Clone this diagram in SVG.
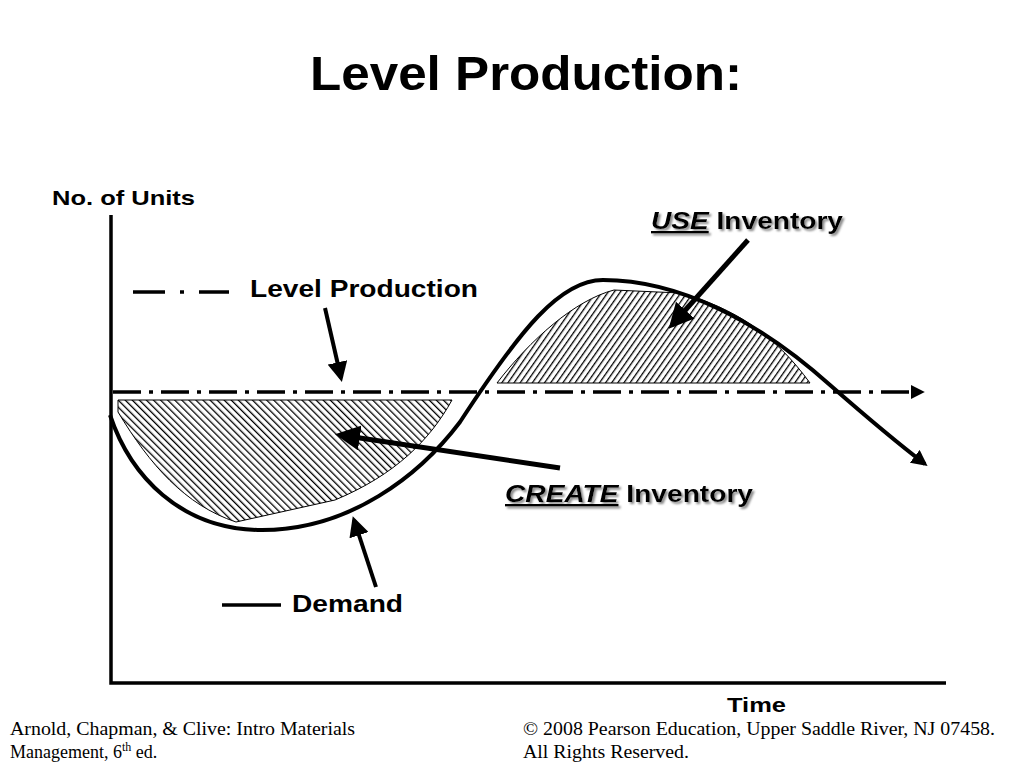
<svg xmlns="http://www.w3.org/2000/svg" width="1024" height="768" viewBox="0 0 1024 768">
<defs>
<style>
.b{font-family:"Liberation Sans",Arial,sans-serif;font-weight:bold;fill:#000}
.t{font-family:"Liberation Serif","Times New Roman",serif;font-size:18px;fill:#000}
.ln{fill:none;stroke:#000}
</style>
<pattern id="hb" width="5" height="5" patternUnits="userSpaceOnUse" patternTransform="rotate(-45)"><rect width="5" height="5" fill="#fff"/><line x1="0" y1="0" x2="0" y2="5" stroke="#000" stroke-width="2.6"/></pattern>
<pattern id="hf" width="5" height="5" patternUnits="userSpaceOnUse" patternTransform="rotate(35)"><rect width="5" height="5" fill="#fff"/><line x1="0" y1="0" x2="0" y2="5" stroke="#000" stroke-width="2.6"/></pattern>
<marker id="ah" viewBox="0 0 10 10" refX="8" refY="5" markerWidth="4" markerHeight="4" orient="auto"><path d="M0,0 L10,5 L0,10 Z" fill="#000"/></marker>
<marker id="as" viewBox="0 0 10 10" refX="8" refY="5" markerWidth="5" markerHeight="5" orient="auto"><path d="M0,0 L10,5 L0,10 Z" fill="#000"/></marker>
<filter id="sh" x="-5%" y="-20%" width="115%" height="150%"><feDropShadow dx="2" dy="2" stdDeviation="1" flood-color="#888"/></filter>
</defs>
<rect width="1024" height="768" fill="#fff"/>
<text class="b" x="310" y="90" font-size="48" textLength="432" lengthAdjust="spacingAndGlyphs">Level Production:</text>
<text class="b" x="52" y="205" font-size="21" textLength="143" lengthAdjust="spacingAndGlyphs">No. of Units</text>
<text class="b" x="727" y="712" font-size="21" textLength="59" lengthAdjust="spacingAndGlyphs">Time</text>

<g id="axes">
<path class="ln" stroke-width="3.5" d="M111,215 V683 H946"/>
</g>

<g id="regions">
<path d="M118,400 L452,400 C430,440 395,475 335,500 L236,522 C185,505 150,465 118,412 Z" fill="url(#hb)" stroke="#000" stroke-width="1"/>
<path d="M497,383 C530,340 575,300 614,290 L680,293 C735,308 775,335 810,383 Z" fill="url(#hf)" stroke="#000" stroke-width="1"/>
</g>

<g id="level-production">
<line class="ln" x1="113" y1="392" x2="922" y2="392" stroke-width="3.5" stroke-dasharray="28,8,4,8" marker-end="url(#ah)"/>
</g>

<g id="demand">
<path class="ln" stroke-width="4" d="M110,415 C130,475 180,530 262,530 C350,530 420,475 460,422 C520,330 560,280 603,280 C680,280 760,322 830,385 C870,420 900,445 925,464" marker-end="url(#ah)"/>
</g>

<g id="legend">
<line class="ln" x1="133" y1="292" x2="229" y2="292" stroke-width="3.5" stroke-dasharray="32,15,4,15"/>
<text class="b" x="250" y="297" font-size="24" textLength="228" lengthAdjust="spacingAndGlyphs">Level Production</text>
<line class="ln" x1="222" y1="605" x2="281" y2="605" stroke-width="3.5"/>
<text class="b" x="292" y="612" font-size="24" textLength="111" lengthAdjust="spacingAndGlyphs">Demand</text>
</g>

<g id="labels" filter="url(#sh)">
<text class="b" x="651" y="229" font-size="24" textLength="192" lengthAdjust="spacingAndGlyphs"><tspan font-style="italic" text-decoration="underline">USE</tspan> Inventory</text>
<text class="b" x="505" y="502" font-size="24" textLength="248" lengthAdjust="spacingAndGlyphs"><tspan font-style="italic" text-decoration="underline">CREATE</tspan> Inventory</text>
</g>

<g id="connectors">
<line class="ln" x1="325" y1="308" x2="341" y2="378" stroke-width="4" marker-end="url(#as)"/>
<line class="ln" x1="376" y1="587" x2="354" y2="520" stroke-width="4" marker-end="url(#as)"/>
<line class="ln" x1="560" y1="468" x2="340" y2="435" stroke-width="5" marker-end="url(#as)"/>
<line class="ln" x1="748" y1="240" x2="672" y2="325" stroke-width="5" marker-end="url(#as)"/>
</g>

<g id="footer">
<text class="t" x="10" y="735" textLength="345" lengthAdjust="spacingAndGlyphs">Arnold, Chapman, &amp; Clive: Intro Materials</text>
<text class="t" x="10" y="758">Management, 6<tspan font-size="12" dy="-7">th</tspan><tspan dy="7"> ed.</tspan></text>
<text class="t" x="523" y="735" textLength="472" lengthAdjust="spacingAndGlyphs">© 2008 Pearson Education, Upper Saddle River, NJ 07458.</text>
<text class="t" x="523" y="758" textLength="166" lengthAdjust="spacingAndGlyphs">All Rights Reserved.</text>
</g>
</svg>
